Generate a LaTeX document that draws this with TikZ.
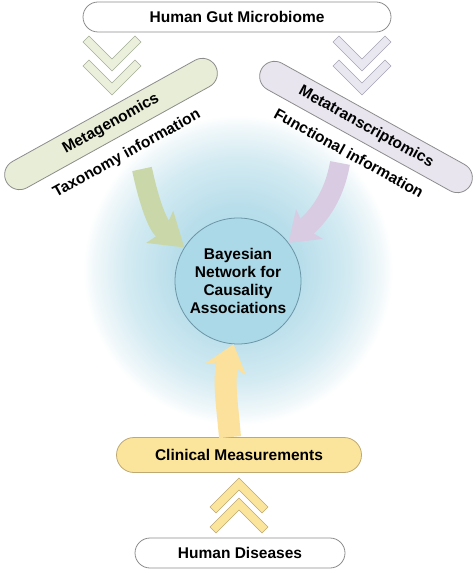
\documentclass[tikz,border=0pt]{standalone}
\usepackage{fontspec}
\setmainfont{Liberation Sans}
\usetikzlibrary{arrows.meta}

\definecolor{pillline}{HTML}{8C8C8C}
\definecolor{grnpill}{HTML}{E7EDD6}
\definecolor{grnchev}{HTML}{EBF0DD}
\definecolor{grnline}{HTML}{A3AE95}
\definecolor{grnarrow}{HTML}{C9D7A9}
\definecolor{lavpill}{HTML}{E8E5EE}
\definecolor{lavchev}{HTML}{E9E7F0}
\definecolor{lavline}{HTML}{A6A4B4}
\definecolor{lavarrow}{HTML}{D8CBE2}
\definecolor{yelpill}{HTML}{FBE59C}
\definecolor{yelline}{HTML}{BFA872}
\definecolor{yelarrow}{HTML}{FBE19B}
\definecolor{bnfill}{HTML}{ABD9E7}
\definecolor{bnline}{HTML}{6C95A6}

\pgfdeclareradialshading{glow}{\pgfpoint{0bp}{0bp}}{rgb(0bp)=(0.66,0.85,0.91); rgb(10bp)=(0.72,0.87,0.92); rgb(18bp)=(0.83,0.92,0.95); rgb(23bp)=(0.94,0.97,0.98); rgb(25bp)=(1,1,1); rgb(50bp)=(1,1,1)}

\begin{document}
\begin{tikzpicture}[x=1pt, y=1pt, font=\fontsize{15.5}{18.3}\selectfont\bfseries,
        pill/.style={draw=pillline, line width=0.8pt, rounded corners=15pt,
            minimum height=30pt, inner sep=0pt},
        chev/.pic={\path[pic actions] (0,0) -- (-29,29) -- (-23,35) -- (0,12)
            -- (23,35) -- (29,29) -- cycle;},
        fat/.style={line width=20pt}]
        \useasboundingbox (0,0) rectangle (475,-569);
        \shade[shading=glow] (238,-270) circle (155);
        % chevrons
        \foreach \y in {-71,-95} {
            \pic[draw=grnline, fill=grnchev, line width=0.6pt] at (112,\y) {chev};
            \pic[draw=lavline, fill=lavchev, line width=0.6pt] at (362,\y) {chev};
        }
        \foreach \y in {-478,-498}
            \pic[draw=yelline, fill=yelpill, line width=0.6pt, rotate=180] at (239,\y) {chev};
        \node[pill, fill=white, minimum width=308pt] (hgm) at (237,-17) {Human Gut Microbiome};
        \node[pill, fill=grnpill, minimum width=239pt, rotate=29] (mg) at (111,-124) {Metagenomics};
        \node[rotate=29] (tax) at (127,-154) {Taxonomy information};
        \node[pill, fill=lavpill, minimum width=239pt, rotate=-29] (mt) at (366,-127) {Metatranscriptomics};
        \node[rotate=-29] (fun) at (349,-153) {Functional information};
        \node[pill, fill=yelpill, draw=yelline, minimum width=245pt, minimum height=35pt,
            rounded corners=17.5pt] (cm) at (239,-455) {Clinical Measurements};
        \node[pill, fill=white, minimum width=210pt] (hd) at (240,-553) {Human Diseases};
        \node[circle, draw=bnline, fill=bnfill, line width=0.8pt, minimum size=126pt,
            inner sep=0pt, align=center] (bn) at (238,-281)
            {Bayesian\\Network for\\Causality\\Associations};
        % arrows into the network
        \coordinate (taxfoot) at (142,-169);
        \coordinate (funfoot) at (340,-163);
        \draw[fat, grnarrow, -{Stealth[length=32pt, width=42pt, inset=6pt, line width=0pt]}]
            (taxfoot) to[out=-78, in=140] (bn.148);
        \draw[fat, lavarrow, -{Stealth[length=28pt, width=40pt, inset=6pt, line width=0pt]}]
            (funfoot) to[out=-100, in=42] (bn.37);
        \draw[fat, line width=22pt, yelarrow, -{Stealth[length=26pt, width=42pt, inset=7pt, line width=0pt]}]
            ([xshift=-9pt]cm.north) to[out=95, in=-107] (bn.266);
    \end{tikzpicture}
\end{document}
